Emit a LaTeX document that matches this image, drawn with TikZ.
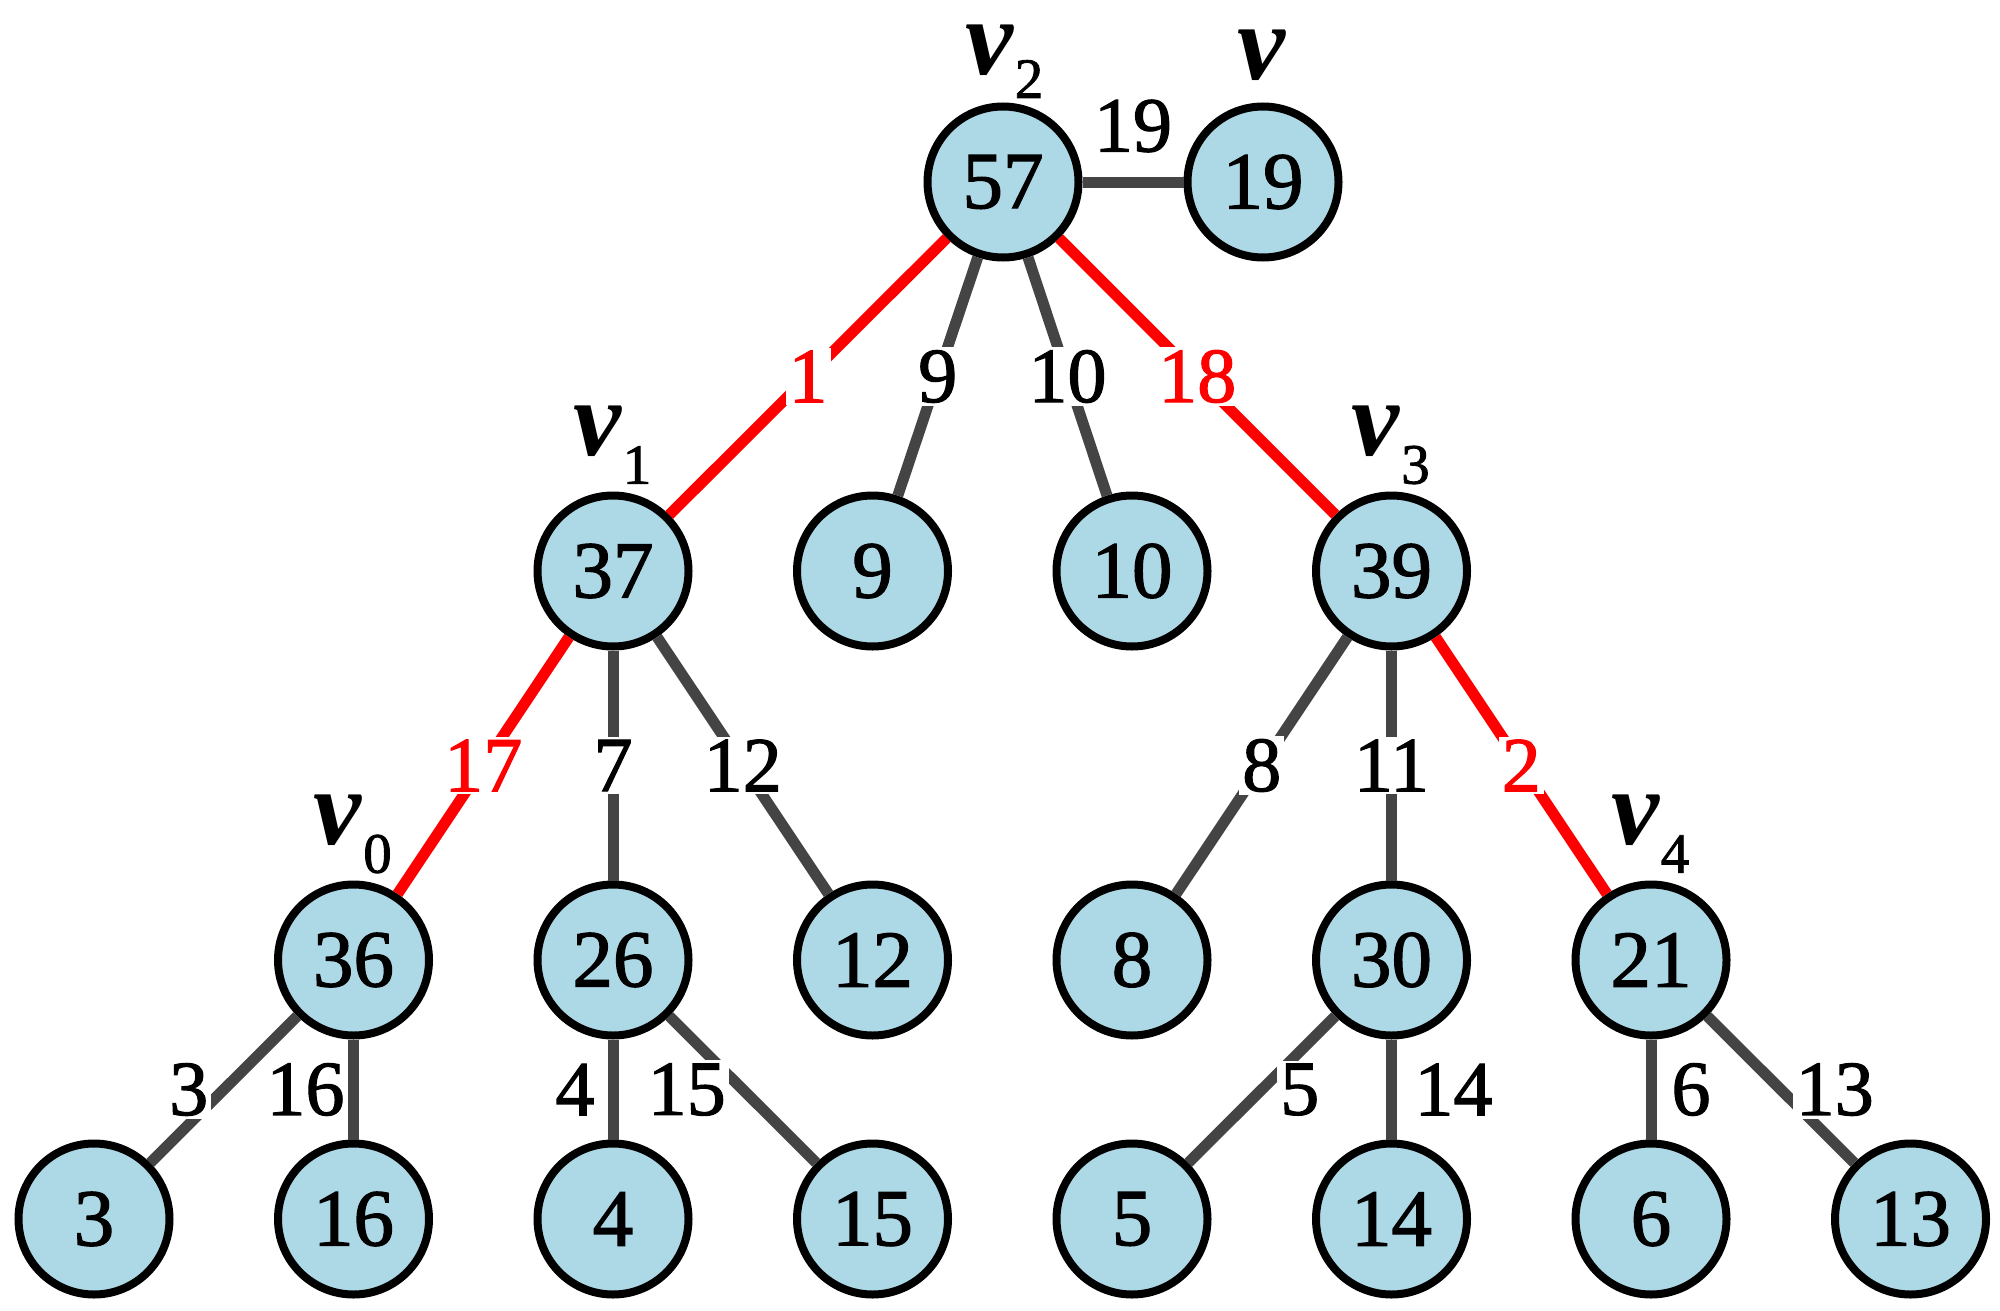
\documentclass[tikz,border=0pt]{standalone}
\usepackage{fontspec}
\setmainfont{Liberation Serif}
\newfontfamily\numfont{Liberation Serif}[FakeBold=1.5]
\usetikzlibrary{calc}
\definecolor{nodefill}{RGB}{173,216,230}
\definecolor{edgegray}{RGB}{68,68,68}
\definecolor{edgered}{RGB}{255,0,0}
\begin{document}
\begin{tikzpicture}[x=1pt,y=-1pt,
  vert/.style={circle, draw=black, line width=8pt, fill=nodefill, minimum size=151pt, inner sep=0pt, font=\numfont\fontsize{81}{81}\selectfont},
  gedge/.style={draw=edgegray, line width=11pt},
  redge/.style={draw=edgered, line width=11pt},
  elab/.style={fill=white, inner sep=3pt, font=\numfont\fontsize{78}{78}\selectfont, text=black},
  relab/.style={elab, text=edgered},
  vname/.style={font=\fontsize{108}{108}\selectfont\bfseries\itshape, inner sep=0pt},
  vsub/.style={font=\numfont\fontsize{57}{57}\selectfont, inner sep=0pt}]
\useasboundingbox (0,0) rectangle (2000,1311);
% top row
\node[vert] (n57) at (1003,182) {57};
\node[vert] (n19) at (1263,182) {19};
% second row
\node[vert] (n37) at (613,571) {37};
\node[vert] (n9) at (872.5,571) {9};
\node[vert] (n10) at (1132,571) {10};
\node[vert] (n39) at (1391.5,571) {39};
% third row
\node[vert] (n36) at (353.5,960) {36};
\node[vert] (n26) at (613,960) {26};
\node[vert] (n12) at (872.5,960) {12};
\node[vert] (n8) at (1132,960) {8};
\node[vert] (n30) at (1391.5,960) {30};
\node[vert] (n21) at (1651,960) {21};
% bottom row
\node[vert] (n3) at (94,1219) {3};
\node[vert] (n16) at (353.5,1219) {16};
\node[vert] (n4) at (613,1219) {4};
\node[vert] (n15) at (872.5,1219) {15};
\node[vert] (n5) at (1132,1219) {5};
\node[vert] (n14) at (1391.5,1219) {14};
\node[vert] (n6) at (1651,1219) {6};
\node[vert] (n13) at (1910.5,1219) {13};
% vertex names
\node[vname] (lv2) at ($(n57)+(-14,-132)$) {v};
\node[vsub] (ls2) at ($(n57)+(26,-103)$) {2};
\node[vname] (lv) at ($(n19)+(-2,-127)$) {v};
\node[vname] (lv1) at ($(n37)+(-16,-140)$) {v};
\node[vsub] (ls1) at ($(n37)+(24,-106)$) {1};
\node[vname] (lv3) at ($(n39)+(-16,-140)$) {v};
\node[vsub] (ls3) at ($(n39)+(24,-106)$) {3};
\node[vname] (lv0) at ($(n36)+(-16,-140)$) {v};
\node[vsub] (ls0) at ($(n36)+(24,-106)$) {0};
\node[vname] (lv4) at ($(n21)+(-16,-140)$) {v};
\node[vsub] (ls4) at ($(n21)+(24,-106)$) {4};
% edges
\draw[gedge] (n57) -- node[elab, yshift=56pt] {19} (n19);
\draw[redge] (n57) -- node[relab] {1} (n37);
\draw[gedge] (n57) -- node[elab] {9} (n9);
\draw[gedge] (n57) -- node[elab] {10} (n10);
\draw[redge] (n57) -- node[relab] {18} (n39);
\draw[redge] (n37) -- node[relab] {17} (n36);
\draw[gedge] (n37) -- node[elab] {7} (n26);
\draw[gedge] (n37) -- node[elab] {12} (n12);
\draw[gedge] (n39) -- node[elab] {8} (n8);
\draw[gedge] (n39) -- node[elab] {11} (n30);
\draw[redge] (n39) -- node[relab] {2} (n21);
\draw[gedge] (n36) -- node[elab, xshift=-35pt] {3} (n3);
\draw[gedge] (n36) -- node[elab, xshift=-48pt] {16} (n16);
\draw[gedge] (n26) -- node[elab, xshift=-38pt] {4} (n4);
\draw[gedge] (n26) -- node[elab, xshift=-56pt] {15} (n15);
\draw[gedge] (n30) -- node[elab, xshift=38pt] {5} (n5);
\draw[gedge] (n30) -- node[elab, xshift=62pt] {14} (n14);
\draw[gedge] (n21) -- node[elab, xshift=40pt] {6} (n6);
\draw[gedge] (n21) -- node[elab, xshift=54pt] {13} (n13);
\end{tikzpicture}
\end{document}
